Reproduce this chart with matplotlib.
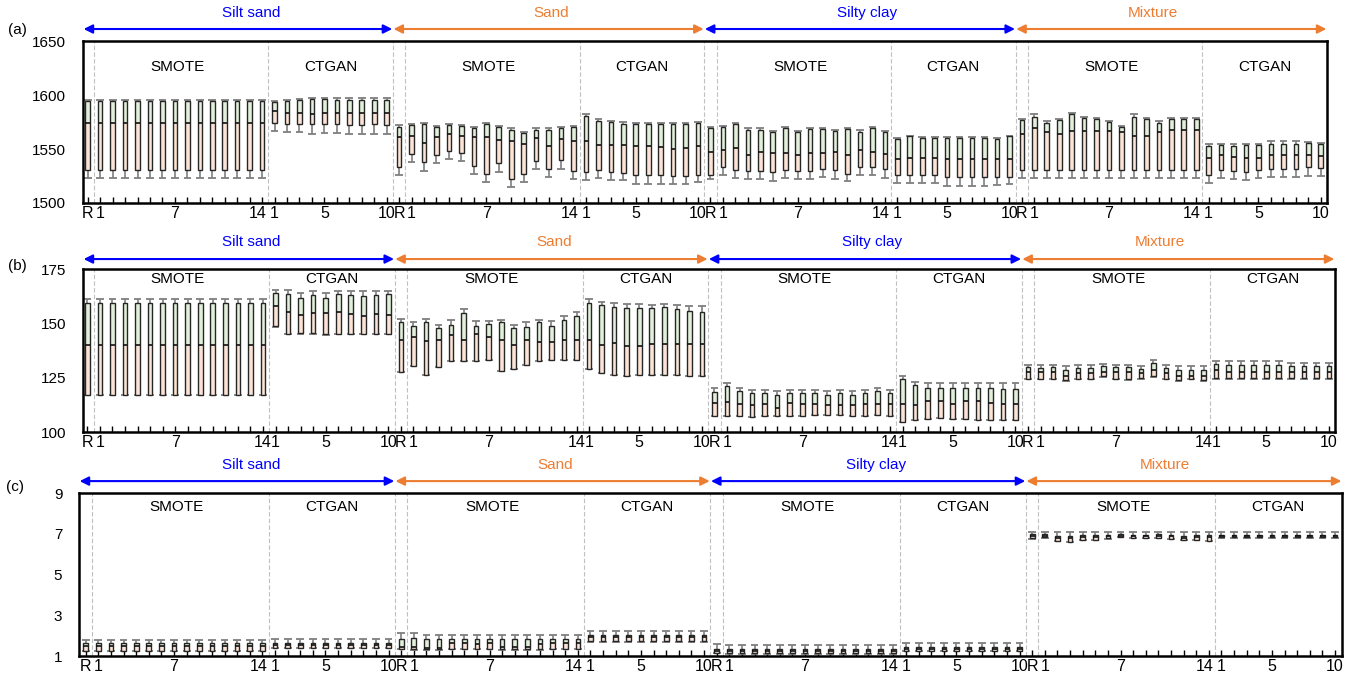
import numpy as np
import matplotlib.pyplot as plt
from matplotlib.transforms import ScaledTranslation

plt.rcParams['font.family'] = ['Liberation Sans', 'DejaVu Sans']

# soil types; each block = real data (R), 14 SMOTE sets, 10 CTGAN sets
groups = ["Silt sand", "Sand", "Silty clay", "Mixture"]
group_colors = ["#0000ff", "#ed7d31", "#0000ff", "#ed7d31"]
group_title_x = [13.1, 37.2, 62.6, 85.5]
tick_labels = {0: "R", 1: "1", 7: "7", 14: "14", 15: "1", 19: "5", 24: "10"}

# (a) box statistics: whisker low, Q1, median, Q3, whisker high
a_lo = [
    1523, 1523, 1523, 1523, 1523, 1523, 1523, 1523, 1523, 1523, 1523, 1523, 1523, 1523, 1523, 1566.5, 1565.5, 1565.5, 1564, 1565, 1565, 1564, 1564, 1564, 1564,
    1526, 1538, 1530, 1537, 1540.5, 1538.5, 1526.5, 1519, 1529, 1514.5, 1519, 1531.5, 1524, 1531.5, 1522, 1521.5, 1523, 1521.5, 1521, 1518, 1518, 1518, 1517.5, 1517.5, 1519,
    1522.5, 1526, 1523, 1522.5, 1522.5, 1520.5, 1523, 1522.5, 1522.5, 1524, 1522.5, 1520, 1525.5, 1525.5, 1523.5, 1518.5, 1518.5, 1518.5, 1518.5, 1516, 1516, 1516, 1516, 1516.5, 1517.5,
    1523, 1523, 1523, 1523, 1523, 1523, 1523, 1523, 1523, 1523, 1523, 1523, 1523, 1523, 1523, 1518.5, 1523, 1522.5, 1521.5, 1523, 1524, 1524, 1524, 1525, 1525,
]
a_q1 = [
    1531, 1531, 1531, 1531, 1531, 1531, 1531, 1531, 1531, 1531, 1531, 1531, 1531, 1531, 1531, 1574, 1573, 1573, 1573, 1573, 1573, 1572, 1572.5, 1573, 1572,
    1533, 1545, 1538, 1544, 1548, 1546, 1534.5, 1526.5, 1537, 1522, 1526.5, 1539, 1531.5, 1539.5, 1529.5, 1529, 1531, 1529, 1528, 1526, 1526, 1526, 1525, 1525, 1526,
    1525.5, 1533, 1531, 1530, 1529.5, 1528.5, 1531, 1529.5, 1529.5, 1531.5, 1530.5, 1527, 1533, 1533, 1531.5, 1526, 1526, 1525.5, 1526, 1524, 1524, 1524, 1524, 1524, 1524,
    1531, 1531, 1531, 1531, 1531, 1531, 1531, 1531, 1531, 1531, 1531, 1531, 1531, 1531, 1531, 1526, 1531, 1530, 1529, 1531, 1531.5, 1531.5, 1531.5, 1533, 1532,
]
a_med = [
    1574, 1574, 1574, 1574, 1574, 1574, 1574, 1574, 1574, 1574, 1574, 1574, 1574, 1574, 1574, 1585, 1583.5, 1583.5, 1582.5, 1583.5, 1583.5, 1583, 1583, 1583.5, 1583,
    1561, 1562, 1555.5, 1561, 1563.5, 1562.5, 1561, 1561, 1558.5, 1557.5, 1555, 1560.5, 1552.5, 1559.5, 1557, 1557, 1554, 1554, 1554, 1552.5, 1552.5, 1552, 1550, 1551, 1553,
    1547, 1549.5, 1551, 1544, 1547, 1546, 1546, 1544, 1546.5, 1546, 1547, 1544, 1549.5, 1547, 1545, 1541, 1542, 1542, 1542, 1541, 1541, 1540.5, 1540.5, 1540.5, 1541,
    1564, 1569.5, 1565.5, 1564, 1567, 1566.5, 1566.5, 1566.5, 1565.5, 1562.5, 1562.5, 1565.5, 1568, 1568, 1568, 1541.5, 1544, 1543, 1542, 1542, 1544, 1544, 1544, 1544, 1543.5,
]
a_q3 = [
    1594, 1594, 1594, 1594, 1594, 1594, 1594, 1594, 1594, 1594, 1594, 1594, 1594, 1594, 1594, 1593.5, 1594, 1595, 1596, 1596, 1595.5, 1595.5, 1595.5, 1595.5, 1595.5,
    1570, 1572, 1573, 1570, 1572, 1571, 1569, 1573, 1570, 1568, 1565, 1568, 1568, 1569, 1570, 1581, 1576, 1575, 1573.5, 1573, 1573, 1573, 1573, 1573, 1574,
    1569.5, 1570.5, 1573, 1568, 1568, 1565.5, 1569.5, 1565.5, 1568.5, 1568.5, 1567, 1568.5, 1565.5, 1569.5, 1565.5, 1559, 1562, 1560.5, 1560.5, 1560.5, 1560.5, 1560.5, 1560.5, 1559, 1562,
    1576.5, 1579.5, 1574, 1576.5, 1582.5, 1578.5, 1577.5, 1575, 1570, 1579.5, 1578, 1574.5, 1578, 1578, 1578, 1552.5, 1554, 1552.5, 1554, 1554, 1555, 1555, 1555, 1555.5, 1555,
]
a_hi = [
    1595, 1595, 1595, 1595, 1595, 1595, 1595, 1595, 1595, 1595, 1595, 1595, 1595, 1595, 1595, 1594, 1595, 1596, 1597, 1597, 1597, 1597, 1597, 1597, 1597,
    1572, 1573, 1574, 1571, 1573, 1572, 1570, 1574, 1571, 1569, 1566, 1569, 1569, 1570, 1571, 1582, 1578, 1576, 1575, 1574.5, 1574.5, 1574.5, 1574.5, 1574.5, 1575,
    1570.5, 1571.5, 1574.5, 1569, 1569, 1566.5, 1570, 1566.5, 1569, 1569, 1568, 1569, 1567.5, 1570, 1566.5, 1560, 1562.5, 1561, 1561, 1561.5, 1561.5, 1561.5, 1561.5, 1560, 1562.5,
    1578, 1582, 1575.5, 1578, 1583.5, 1579.5, 1578.5, 1575.5, 1571, 1582, 1578.5, 1575.5, 1578.5, 1578.5, 1578.5, 1555, 1555, 1555, 1555, 1555, 1557, 1557, 1557, 1556.5, 1556,
]

# (b)
b_lo = [
    117, 117, 117, 117, 117, 117, 117, 117, 117, 117, 117, 117, 117, 117, 117, 148.5, 145, 145, 145, 144.5, 145, 145, 145, 145, 145,
    127.5, 130.5, 126.5, 130, 132.5, 132.5, 132.5, 133, 128, 129, 131, 132.5, 133, 133, 133, 129, 127, 126.5, 126, 126.5, 126.5, 126.5, 126.5, 126, 126,
    107.5, 107.5, 107.5, 107, 107.5, 107.5, 107.5, 107.5, 108, 108, 108, 107.5, 107.5, 108, 107.5, 104.5, 105.5, 106, 106.5, 106, 106, 105.5, 105.5, 105.5, 105.5,
    124.3, 124.3, 124.3, 123.5, 124.3, 124.3, 125.5, 124.3, 124, 124.5, 125.5, 124.3, 123.5, 124.3, 123.5, 124.3, 124.3, 124.3, 124.3, 124.3, 124.3, 124.3, 124.3, 124.3, 124.3,
]
b_q1 = [
    117, 117, 117, 117, 117, 117, 117, 117, 117, 117, 117, 117, 117, 117, 117, 149, 145, 145.5, 145.5, 145, 145, 145, 145, 145, 145,
    127.5, 130.5, 126.5, 130, 132.5, 132.5, 132.5, 133, 128, 129, 131, 132.5, 133, 133, 133, 129, 127, 126.5, 126, 126.5, 126.5, 126.5, 126.5, 126, 126,
    107.5, 107.5, 107.5, 107, 107.5, 107.5, 107.5, 107.5, 108, 108, 108, 107.5, 107.5, 108, 107.5, 104.5, 105.5, 106, 106.5, 106, 106, 105.5, 105.5, 105.5, 105.5,
    124.5, 124.5, 124.5, 124, 124.5, 124.5, 126, 124.5, 124.5, 125, 126, 124.5, 124, 124.5, 124, 125, 125, 125, 125, 125, 125, 125, 125, 125, 125,
]
b_med = [
    140, 140, 140, 140, 140, 140, 140, 140, 140, 140, 140, 140, 140, 140, 140, 158, 155.5, 154, 155, 155, 155.5, 154.5, 153.5, 154.5, 154,
    142.5, 144, 142, 142.5, 144.5, 142.5, 145, 144, 142.5, 140, 142.5, 141.5, 141.5, 142.5, 142.5, 142.5, 140, 141, 139.5, 139.5, 140.5, 140.5, 140.5, 140.5, 140.5,
    113.5, 114, 113, 112.5, 113, 111, 113.5, 113, 113, 112.5, 112.5, 112.5, 113, 113, 113, 113, 112.5, 114.5, 114.5, 113, 114.5, 114.5, 113.5, 113, 113,
    127.5, 127.5, 127.5, 126, 127, 127, 127.5, 127.5, 127.5, 127, 128.5, 127, 126, 126, 126, 128.5, 127.5, 127.5, 127.5, 127.5, 127.5, 127.5, 127.5, 127.5, 127.5,
]
b_q3 = [
    159.5, 159.5, 159.5, 159.5, 159.5, 159.5, 159.5, 159.5, 159.5, 159.5, 159.5, 159.5, 159.5, 159.5, 159.5, 164, 163.5, 162, 163, 162, 163.5, 163, 162.5, 163, 163.5,
    150.5, 149, 150.5, 148, 149.5, 155, 149, 150, 150.5, 148, 148.5, 150.5, 149, 151.5, 153.5, 159.5, 158.5, 157.5, 157, 157, 157, 157.5, 156.5, 156, 155.5,
    118.5, 121, 119, 118, 118, 117, 118, 118, 118, 117, 118, 117, 118, 119, 118, 124.5, 121.5, 120.5, 120.5, 120.5, 120.5, 120.5, 120.5, 120, 120,
    130, 129.5, 130, 128.5, 129.5, 129.5, 130.5, 130, 130, 129, 132, 129.5, 128.5, 128.5, 128.5, 131.5, 131, 131, 131, 131, 131, 130.5, 130.5, 130.5, 130.5,
]
b_hi = [
    161.5, 161.5, 161.5, 161.5, 161.5, 161.5, 161.5, 161.5, 161.5, 161.5, 161.5, 161.5, 161.5, 161.5, 161.5, 165.5, 165.5, 164, 165, 164, 165, 165, 165, 165, 165,
    152, 150.5, 152, 149.5, 151.5, 156.5, 151, 151, 151.5, 149.5, 150.5, 151.5, 151, 153.5, 155.5, 161.5, 160, 159.5, 159, 159, 158.5, 159, 158.5, 158, 158,
    120.5, 122.5, 120.5, 119.5, 119.5, 119, 119.5, 119.5, 119.5, 119, 119.5, 119, 119.5, 120.5, 119.5, 126, 123, 122.5, 122.5, 122.5, 122.5, 122.5, 122.5, 122.5, 122.5,
    131, 131, 131, 130.5, 131, 131, 131.5, 131, 131, 130.5, 133, 131, 130.5, 130.5, 130.5, 132.5, 132.5, 132.5, 132.5, 132.5, 132.5, 132, 132, 132, 132,
]

# (c)
c_lo = [
    1.25, 1.25, 1.25, 1.25, 1.25, 1.25, 1.25, 1.25, 1.25, 1.25, 1.25, 1.25, 1.25, 1.25, 1.25, 1.38, 1.38, 1.38, 1.38, 1.38, 1.38, 1.38, 1.38, 1.38, 1.38,
    1.34, 1.31, 1.31, 1.31, 1.34, 1.34, 1.34, 1.34, 1.31, 1.31, 1.31, 1.31, 1.34, 1.34, 1.34, 1.70, 1.70, 1.70, 1.70, 1.70, 1.70, 1.70, 1.70, 1.70, 1.70,
    1.13, 1.12, 1.12, 1.12, 1.12, 1.12, 1.12, 1.12, 1.12, 1.12, 1.12, 1.12, 1.12, 1.12, 1.12, 1.23, 1.23, 1.23, 1.23, 1.23, 1.23, 1.23, 1.23, 1.23, 1.23,
    6.76, 6.81, 6.65, 6.60, 6.70, 6.70, 6.76, 6.83, 6.78, 6.78, 6.78, 6.73, 6.68, 6.70, 6.63, 6.82, 6.82, 6.82, 6.82, 6.82, 6.82, 6.82, 6.82, 6.82, 6.82,
]
c_q1 = [
    1.27, 1.27, 1.27, 1.27, 1.27, 1.27, 1.27, 1.27, 1.27, 1.27, 1.27, 1.27, 1.27, 1.27, 1.27, 1.40, 1.40, 1.40, 1.40, 1.40, 1.40, 1.40, 1.40, 1.40, 1.40,
    1.36, 1.33, 1.33, 1.33, 1.36, 1.36, 1.36, 1.36, 1.33, 1.33, 1.33, 1.33, 1.36, 1.36, 1.36, 1.74, 1.74, 1.74, 1.74, 1.74, 1.74, 1.74, 1.74, 1.74, 1.74,
    1.15, 1.14, 1.14, 1.14, 1.14, 1.14, 1.14, 1.14, 1.14, 1.14, 1.14, 1.14, 1.14, 1.14, 1.14, 1.25, 1.25, 1.25, 1.25, 1.25, 1.25, 1.25, 1.25, 1.25, 1.25,
    6.78, 6.83, 6.67, 6.62, 6.72, 6.72, 6.78, 6.85, 6.80, 6.80, 6.80, 6.75, 6.70, 6.72, 6.65, 6.84, 6.84, 6.84, 6.84, 6.84, 6.84, 6.84, 6.84, 6.84, 6.84,
]
c_med = [
    1.47, 1.47, 1.47, 1.47, 1.47, 1.47, 1.47, 1.47, 1.47, 1.47, 1.47, 1.47, 1.47, 1.47, 1.47, 1.52, 1.52, 1.52, 1.52, 1.52, 1.52, 1.52, 1.52, 1.52, 1.52,
    1.45, 1.42, 1.41, 1.41, 1.63, 1.66, 1.58, 1.66, 1.45, 1.45, 1.45, 1.58, 1.66, 1.66, 1.66, 1.91, 1.91, 1.91, 1.91, 1.91, 1.91, 1.91, 1.91, 1.91, 1.91,
    1.25, 1.23, 1.23, 1.23, 1.23, 1.23, 1.23, 1.23, 1.23, 1.23, 1.23, 1.23, 1.23, 1.23, 1.23, 1.33, 1.33, 1.33, 1.33, 1.33, 1.33, 1.33, 1.33, 1.33, 1.33,
    6.88, 6.90, 6.80, 6.80, 6.85, 6.85, 6.88, 6.92, 6.88, 6.88, 6.90, 6.88, 6.82, 6.85, 6.85, 6.90, 6.90, 6.90, 6.90, 6.90, 6.90, 6.90, 6.90, 6.90, 6.90,
]
c_q3 = [
    1.62, 1.62, 1.62, 1.62, 1.62, 1.62, 1.62, 1.62, 1.62, 1.62, 1.62, 1.62, 1.62, 1.62, 1.62, 1.64, 1.64, 1.64, 1.64, 1.64, 1.64, 1.64, 1.64, 1.64, 1.64,
    1.86, 1.90, 1.82, 1.82, 1.82, 1.86, 1.82, 1.86, 1.82, 1.82, 1.82, 1.82, 1.82, 1.82, 1.82, 2.02, 2.02, 2.02, 2.02, 2.02, 2.02, 2.02, 2.02, 2.02, 2.02,
    1.36, 1.34, 1.34, 1.34, 1.34, 1.34, 1.34, 1.34, 1.34, 1.34, 1.34, 1.34, 1.34, 1.34, 1.34, 1.42, 1.42, 1.42, 1.42, 1.42, 1.42, 1.42, 1.42, 1.42, 1.42,
    6.99, 6.99, 6.88, 6.88, 6.95, 6.95, 6.95, 6.99, 6.95, 6.95, 6.99, 6.95, 6.90, 6.95, 6.95, 6.97, 6.97, 6.97, 6.97, 6.97, 6.97, 6.97, 6.97, 6.97, 6.97,
]
c_hi = [
    1.80, 1.80, 1.80, 1.80, 1.80, 1.80, 1.80, 1.80, 1.80, 1.80, 1.80, 1.80, 1.80, 1.80, 1.80, 1.86, 1.86, 1.86, 1.86, 1.86, 1.86, 1.86, 1.86, 1.86, 1.86,
    2.12, 2.12, 2.02, 2.02, 2.02, 2.05, 2.02, 2.05, 2.02, 2.02, 2.02, 2.02, 2.02, 2.02, 2.02, 2.23, 2.23, 2.23, 2.23, 2.23, 2.23, 2.23, 2.23, 2.23, 2.23,
    1.61, 1.55, 1.55, 1.55, 1.55, 1.55, 1.55, 1.55, 1.55, 1.55, 1.55, 1.55, 1.55, 1.55, 1.55, 1.62, 1.62, 1.62, 1.62, 1.62, 1.62, 1.62, 1.62, 1.62, 1.62,
    7.12, 7.08, 7.08, 7.08, 7.08, 7.08, 7.08, 7.10, 7.10, 7.08, 7.08, 7.08, 7.08, 7.08, 7.08, 7.10, 7.10, 7.10, 7.10, 7.10, 7.10, 7.10, 7.10, 7.10, 7.10,
]

box_w = 0.37
cap_w = 0.62
peach = "#fbe4d6"
green = "#e2efda"
whisk = "#7f7f7f"


def draw_panel(ax, lo, q1, med, q3, hi, ylim, yticks, xlim, method_y, arrow_y, title_y,
               shift14=0):
    lo, q1, med, q3, hi = (np.asarray(v, dtype=float) for v in (lo, q1, med, q3, hi))
    x = np.arange(len(med))

    ax.vlines(x, q3, hi, color=whisk, lw=1.2, zorder=2)
    ax.vlines(x, lo, q1, color=whisk, lw=1.2, zorder=2)
    ax.hlines(hi, x - cap_w / 2, x + cap_w / 2, color=whisk, lw=1.3, zorder=2)
    ax.hlines(lo, x - cap_w / 2, x + cap_w / 2, color=whisk, lw=1.3, zorder=2)
    ax.bar(x, med - q1, bottom=q1, width=box_w, color=peach, lw=0, zorder=3)
    ax.bar(x, q3 - med, bottom=med, width=box_w, color=green, lw=0, zorder=3)
    ax.bar(x, q3 - q1, bottom=q1, width=box_w, fill=False, edgecolor="#262626", lw=1.0, zorder=4)
    ax.hlines(med, x - box_w / 2, x + box_w / 2, color="#111111", lw=1.2, zorder=5)

    # dashed separators: R | SMOTE | CTGAN | next soil type
    for g in range(4):
        start = g * 25
        seps = [start + 0.5, start + 14.5]
        if g < 3:
            seps.append(start + 24.5)
        for s in seps:
            ax.axvline(s, color="#c0c0c0", lw=0.8, ls=(0, (4, 2)), zorder=1)
        ax.text(start + 7.2, method_y, "SMOTE", transform=ax.get_xaxis_transform(),
                ha="center", va="center", fontsize=11)
        ax.text(start + 19.5, method_y, "CTGAN", transform=ax.get_xaxis_transform(),
                ha="center", va="center", fontsize=11)

        x0 = xlim[0] if g == 0 else start - 0.5
        x1 = xlim[1] if g == 3 else start + 24.5
        ax.annotate("", xy=(x1 - 0.05, arrow_y), xytext=(x0 + 0.05, arrow_y),
                    xycoords=ax.get_xaxis_transform(), annotation_clip=False,
                    arrowprops=dict(arrowstyle="<|-|>", color=group_colors[g], lw=1.5,
                                    mutation_scale=13, shrinkA=0, shrinkB=0))
        ax.text(group_title_x[g], title_y, groups[g], transform=ax.get_xaxis_transform(),
                ha="center", va="center", fontsize=11, color=group_colors[g])

    ax.set_xlim(*xlim)
    ax.set_ylim(*ylim)
    ax.set_yticks(yticks)
    ax.set_xticks(x)
    ax.set_xticklabels([tick_labels.get(i % 25, "") for i in x])
    ax.tick_params(axis="x", direction="in", length=4, width=1, pad=2, labelsize=11.5)
    ax.tick_params(axis="y", length=0, pad=12, labelsize=11)
    if shift14:
        nudge = ScaledTranslation(shift14 / 72, 0, ax.figure.dpi_scale_trans)
        for lab in ax.get_xticklabels():
            if lab.get_text() == "14":
                lab.set_transform(lab.get_transform() + nudge)
    for sp in ax.spines.values():
        sp.set_linewidth(1.8)
        sp.set_color("black")


fig = plt.figure(figsize=(13.59, 6.76), dpi=100)

ax_a = fig.add_axes([83 / 1359, 1 - 203 / 676, 1244 / 1359, 162 / 676])
draw_panel(ax_a, a_lo, a_q1, a_med, a_q3, a_hi, (1500, 1650), [1500, 1550, 1600, 1650],
           (-0.38, 99.5), 0.84, 1.074, 1.175, shift14=-3)

ax_b = fig.add_axes([83 / 1359, 1 - 432 / 676, 1252 / 1359, 162.7 / 676])
draw_panel(ax_b, b_lo, b_q1, b_med, b_q3, b_hi, (100, 175), [100, 125, 150, 175],
           (-0.35, 99.48), 0.94, 1.063, 1.167)

ax_c = fig.add_axes([79 / 1359, 1 - 656 / 676, 1263 / 1359, 162.7 / 676])
draw_panel(ax_c, c_lo, c_q1, c_med, c_q3, c_hi, (1, 9), [1, 3, 5, 7, 9],
           (-0.53, 99.55), 0.915, 1.075, 1.174, shift14=-3)

fig.text(17 / 1359, 1 - 30 / 676, "(a)", ha="center", va="center", fontsize=11)
fig.text(17 / 1359, 1 - 266 / 676, "(b)", ha="center", va="center", fontsize=11)
fig.text(15 / 1359, 1 - 487 / 676, "(c)", ha="center", va="center", fontsize=11)

fig.savefig("out.png", dpi=100)
